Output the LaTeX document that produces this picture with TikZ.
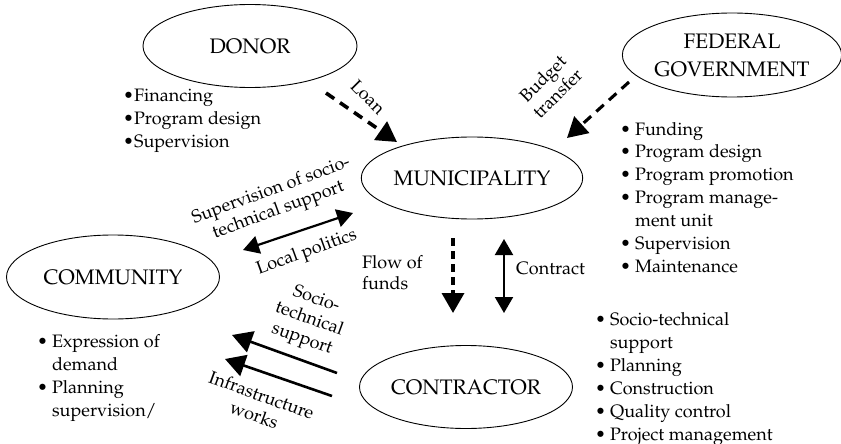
\documentclass[tikz,border=0pt]{standalone}
\usepackage[T1]{fontenc}
\usepackage{mathpazo}
\usetikzlibrary{shapes.geometric,arrows.meta}

\begin{document}
\begin{tikzpicture}[x=1pt,y=-1pt,
  actor/.style={draw, ellipse, line width=0.9pt, minimum width=214pt,
    minimum height=83pt, inner sep=0pt, align=center,
    font=\fontsize{21}{28}\selectfont},
  lbl/.style={font=\fontsize{18}{21}\selectfont, align=center, inner sep=0pt},
  bul/.style={font=\fontsize{18}{23}\selectfont, anchor=base west, inner sep=0pt},
  bighead/.style={-{Triangle[length=20pt,width=22pt]}},
  dashflow/.style={line width=3.6pt, dash pattern=on 10pt off 7pt, bighead},
  solidflow/.style={line width=2.6pt, bighead},
  twoway/.style={line width=2.2pt, {Triangle[length=16pt,width=18pt]}-{Triangle[length=16pt,width=18pt]}},
]
\useasboundingbox (0,0) rectangle (841,444);

% actors
\node[actor] (donor) at (250,46) {DONOR};
\node[actor, minimum width=211pt, minimum height=84pt] (fed) at (732,55) {FEDERAL\\GOVERNMENT};
\node[actor, minimum width=212pt, minimum height=82pt] (muni) at (472,178) {MUNICIPALITY};
\node[actor, minimum width=213pt, minimum height=84pt] (comm) at (113,277) {COMMUNITY};
\node[actor, minimum width=213pt, minimum height=83pt] (contr) at (466,387) {CONTRACTOR};

% task lists
\node[bul] (donorlist) at (123,102) {\begin{tabular}[t]{@{}l@{}}
  \textbullet Financing\\
  \textbullet Program design\\
  \textbullet Supervision
\end{tabular}};
\node[bul] (fedlist) at (620,135) {\begin{tabular}[t]{@{}l@{\hspace{4pt}}l@{}}
  \textbullet & Funding\\
  \textbullet & Program design\\
  \textbullet & Program promotion\\
  \textbullet & Program manage-\\
              & ment unit\\
  \textbullet & Supervision\\
  \textbullet & Maintenance
\end{tabular}};
\node[bul] (commlist) at (37,347) {\begin{tabular}[t]{@{}l@{\hspace{4pt}}l@{}}
  \textbullet & Expression of\\
              & demand\\
  \textbullet & Planning\\
              & supervision/
\end{tabular}};
\node[bul] (contrlist) at (595,325) {\begin{tabular}[t]{@{}l@{\hspace{4pt}}l@{}}
  \textbullet & Socio-technical\\
              & support\\
  \textbullet & Planning\\
  \textbullet & Construction\\
  \textbullet & Quality control\\
  \textbullet & Project management
\end{tabular}};

% connector end points
\coordinate (loanA) at (326,93);
\coordinate (loanB) at (397,142);
\coordinate (budA) at (629,82);
\coordinate (budB) at (567,138);
\coordinate (polA) at (243,250);
\coordinate (polB) at (353,213);
\coordinate (fundA) at (453,238);
\coordinate (fundB) at (453,313);
\coordinate (conA) at (504,239);
\coordinate (conB) at (504,313);
\coordinate (socA) at (337,373);
\coordinate (socB) at (232,335);
\coordinate (infA) at (332,396);
\coordinate (infB) at (225,359);

% connectors
\draw[dashflow] (loanA) -- (loanB);
\draw[dashflow, line width=3.1pt] (budA) -- (budB);
\draw[twoway] (polA) -- (polB);
\draw[dashflow, dash pattern=on 8pt off 5pt] (fundA) -- (fundB);
\draw[twoway, line width=2pt] (conA) -- (conB);
\draw[solidflow] (socA) -- (socB);
\draw[solidflow] (infA) -- (infB);

% connector labels
\node[lbl, rotate=-45] (loan) at (368,97) {Loan};
\node[lbl, rotate=45] (budget) at (550,86) {Budget\\transfer};
\node[lbl, rotate=20] (supsoc) at (275,201) {Supervision of socio-\\technical support};
\node[lbl, rotate=20] (politics) at (307,253) {Local politics};
\node[lbl, align=left, anchor=west] (funds) at (362,273) {Flow of\\funds};
\node[lbl, anchor=west] (contract) at (516,268) {Contract};
\node[lbl, rotate=-20] (socio) at (309,320) {Socio-\\technical\\support};
\node[lbl, rotate=-20] (infra) at (258,405) {Infrastructure\\works};
\end{tikzpicture}
\end{document}
